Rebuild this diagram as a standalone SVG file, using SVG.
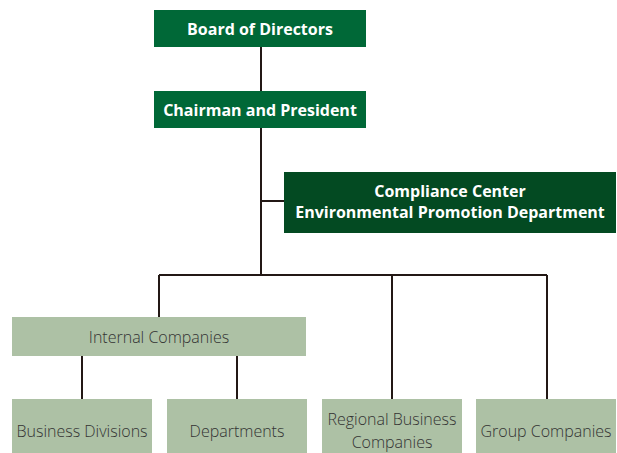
<svg xmlns="http://www.w3.org/2000/svg" width="617" height="453" viewBox="0 0 617 453">
<style>
.top{fill:#006837}
.dark{fill:#034a22}
.light{fill:#adc1a5}
.tw{font-family:"Open Sans","Liberation Sans",sans-serif;font-weight:700;font-size:16px;fill:#fff;text-anchor:middle}
.tl{font-family:"Open Sans","Liberation Sans",sans-serif;font-weight:300;font-size:16px;fill:#333;text-anchor:middle}
.c{stroke:#231815;stroke-width:2;fill:none}
</style>
<rect width="617" height="453" fill="#fff"/>
<g id="connectors">
<path class="c" d="M261 47V275M261 201H284M159 275H547M159 275V317M392 275V399M547 275V399M82 356V399M237 356V399"/>
</g>
<g id="board"><rect class="top" x="154" y="10" width="212" height="37"/><text class="tw" x="260" y="35">Board of Directors</text></g>
<g id="chairman"><rect class="top" x="154" y="91" width="212" height="37"/><text class="tw" x="260" y="116">Chairman and President</text></g>
<g id="compliance"><rect class="dark" x="284" y="172" width="332" height="61"/><text class="tw" x="450" y="197">Compliance Center</text><text class="tw" x="450" y="218">Environmental Promotion Department</text></g>
<g id="internal"><rect class="light" x="12" y="317" width="294" height="39"/><text class="tl" x="159" y="343">Internal Companies</text></g>
<g id="business"><rect class="light" x="12" y="399" width="140" height="54"/><text class="tl" x="82" y="437">Business Divisions</text></g>
<g id="departments"><rect class="light" x="167" y="399" width="140" height="54"/><text class="tl" x="237" y="437">Departments</text></g>
<g id="regional"><rect class="light" x="322" y="399" width="140" height="54"/><text class="tl" x="392" y="425">Regional Business</text><text class="tl" x="392" y="448">Companies</text></g>
<g id="group"><rect class="light" x="476" y="399" width="140" height="54"/><text class="tl" x="546" y="437">Group Companies</text></g>
</svg>
